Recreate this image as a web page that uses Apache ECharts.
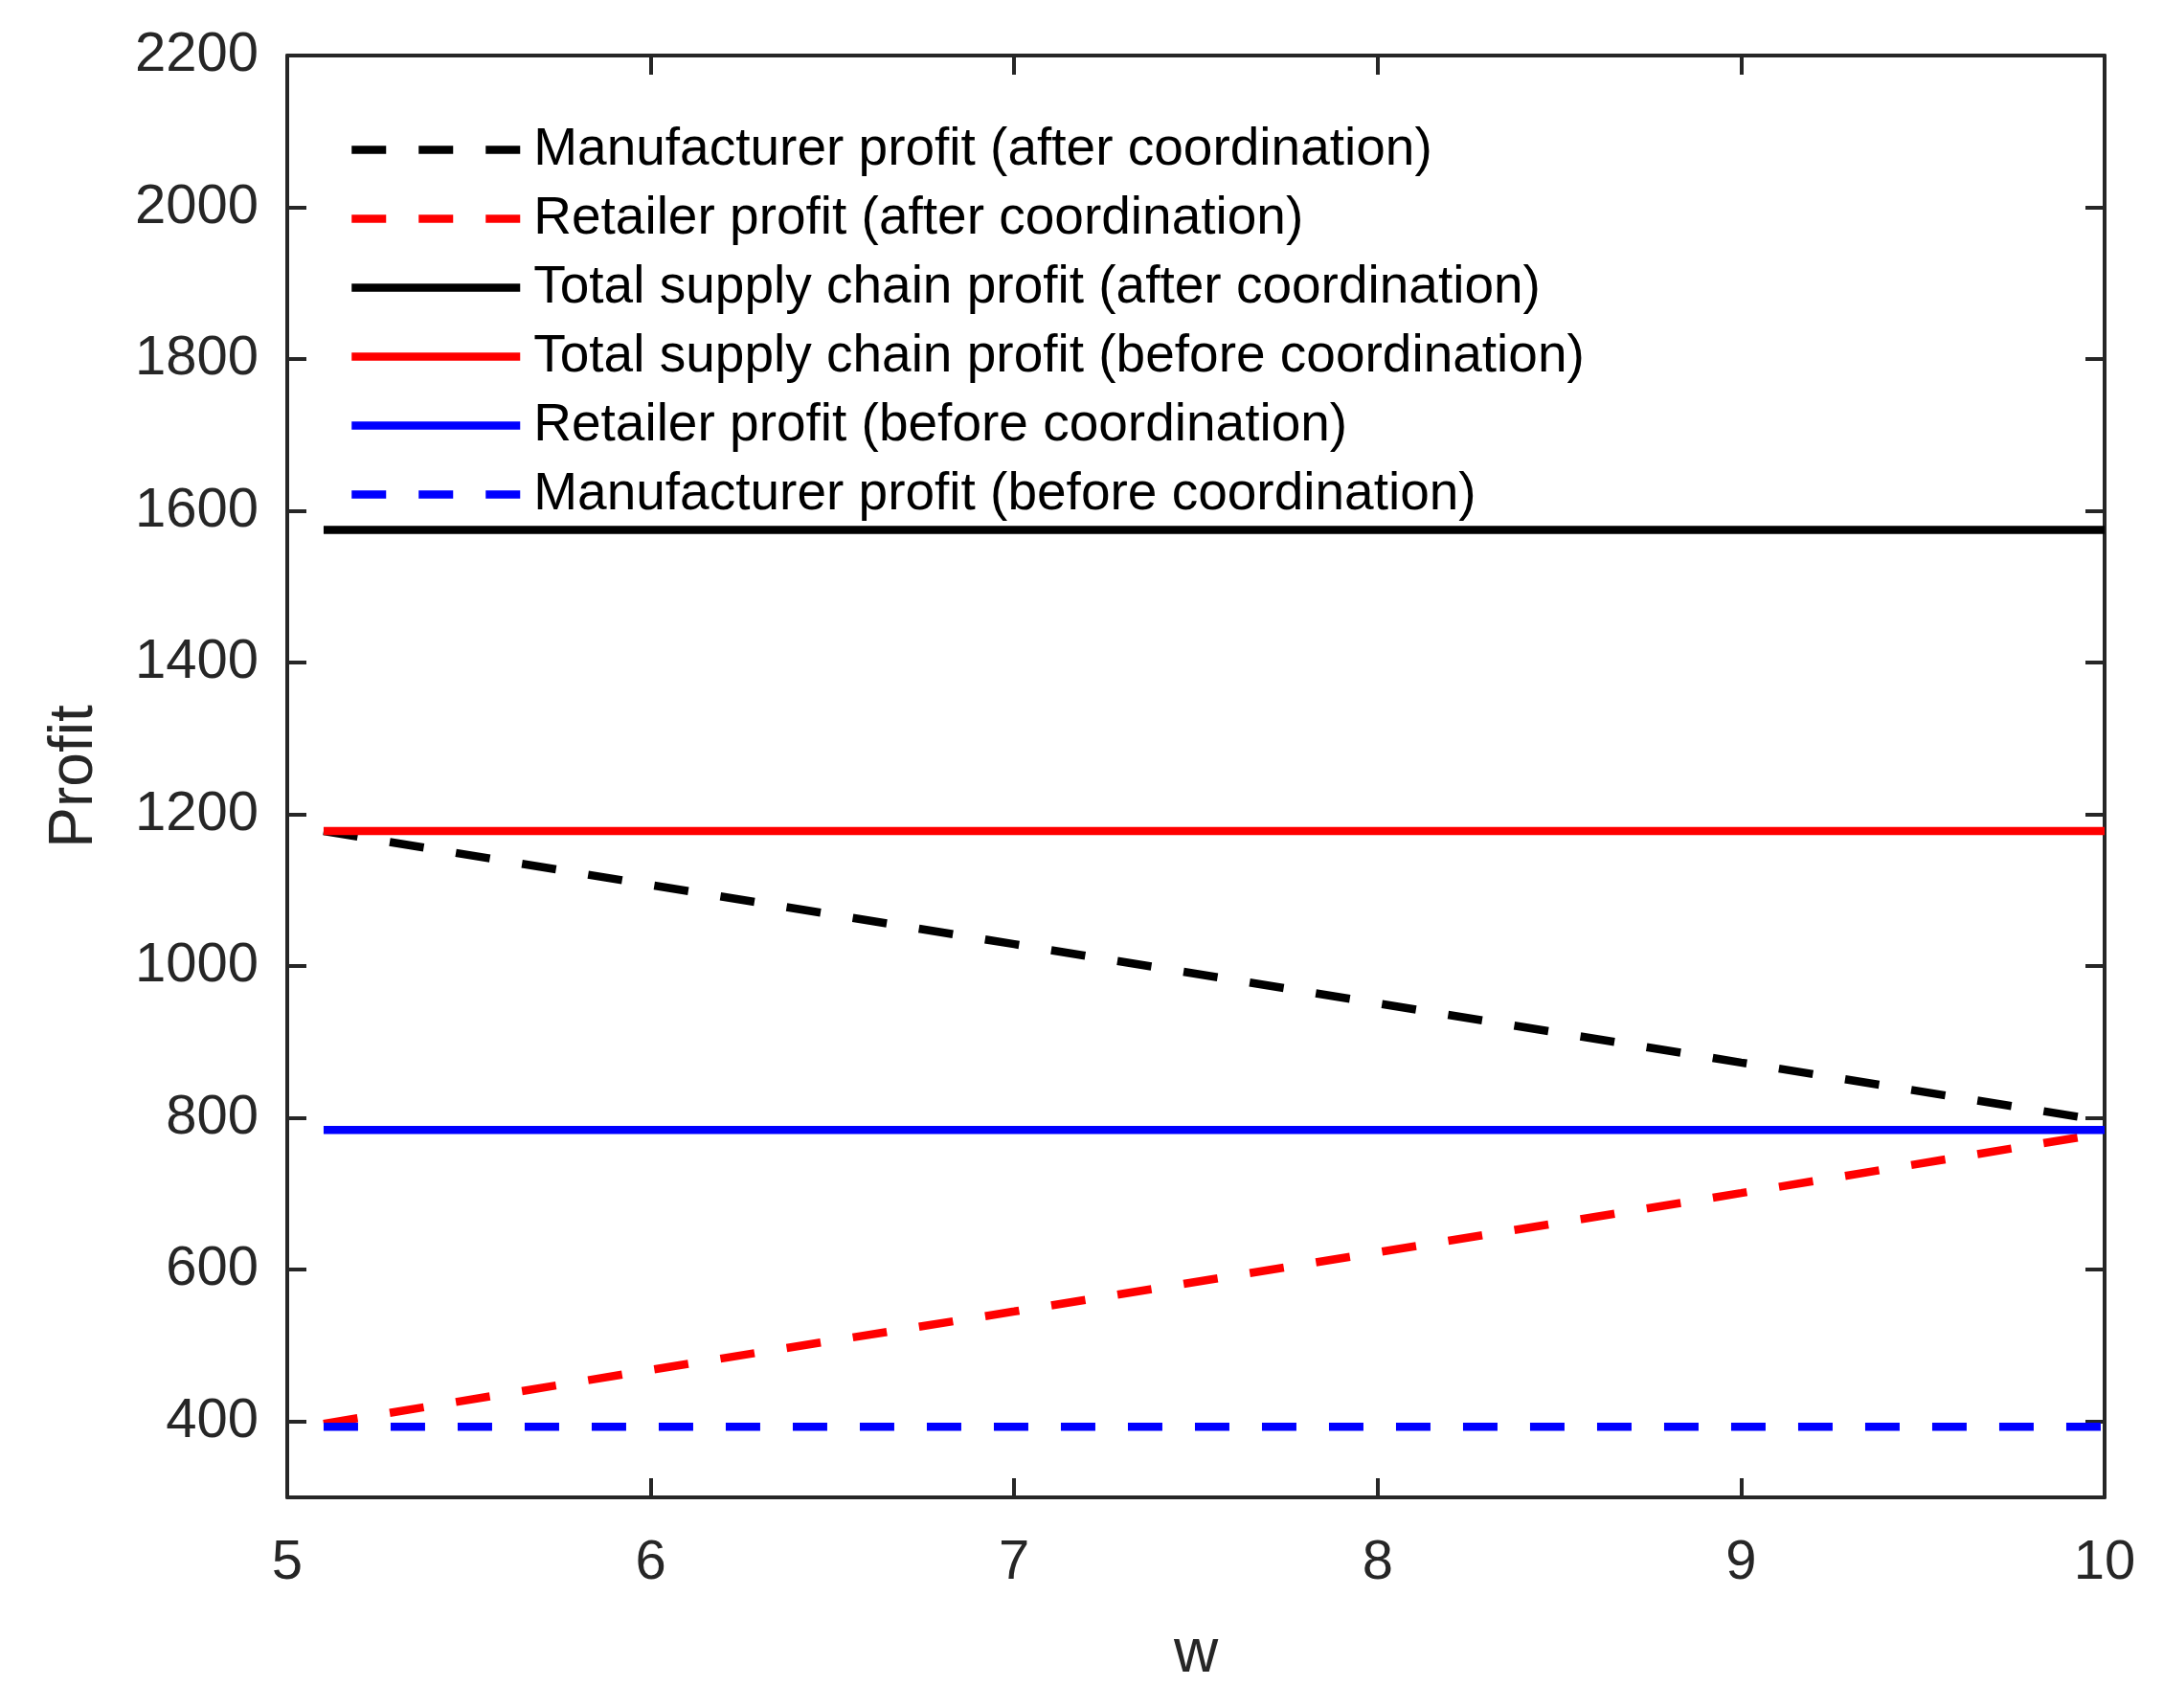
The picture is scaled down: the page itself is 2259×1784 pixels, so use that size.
<!DOCTYPE html>
<html>
<head>
<meta charset="utf-8">
<script src="https://cdn.jsdelivr.net/npm/echarts@6/dist/echarts.min.js"></script>
<style>
html,body{margin:0;padding:0;background:#fff;}
#chart{width:2259px;height:1784px;}
</style>
</head>
<body>
<div id="chart"></div>
<script>
// ---- data ----
const wValues = [5.1, 6, 7, 8, 9, 10];
const manufacturerAfter = [1178, 1107, 1029, 951, 873, 796];
const retailerAfter = [397, 468, 545, 623, 701, 780];
const totalAfter = [1575, 1575, 1575, 1575, 1575, 1575];
const totalBefore = [1178, 1178, 1178, 1178, 1178, 1178];
const retailerBefore = [784, 784, 784, 784, 784, 784];
const manufacturerBefore = [393, 393, 393, 393, 393, 393];
const seriesNames = [
  'Manufacturer profit (after coordination)',
  'Retailer profit (after coordination)',
  'Total supply chain profit (after coordination)',
  'Total supply chain profit (before coordination)',
  'Retailer profit (before coordination)',
  'Manufacturer profit (before coordination)'
];
const seriesColors = ['#000000', '#ff0000', '#000000', '#ff0000', '#0000ff', '#0000ff'];
const seriesDashed = [true, true, false, false, false, true];
const yTicks = [400, 600, 800, 1000, 1200, 1400, 1600, 1800, 2000, 2200];
const xTicks = [5, 6, 7, 8, 9, 10];

const FONT = '"Liberation Sans", Arial, Helvetica, sans-serif';
const AX = '#262626';
const LW = 8.5;
const DASH = [36, 34];

function pairs(ys) { return wValues.map((x, i) => [x, ys[i]]); }

function mkSeries(i, ys) {
  return {
    name: seriesNames[i],
    type: 'line',
    data: pairs(ys),
    symbol: 'none',
    showSymbol: false,
    silent: true,
    animation: false,
    lineStyle: { color: seriesColors[i], width: LW, type: seriesDashed[i] ? DASH : 'solid', cap: 'butt' },
    itemStyle: { color: seriesColors[i] }
  };
}

const chart = echarts.init(document.getElementById('chart'), null, { renderer: 'canvas' });

const baseX = {
  type: 'value', min: 5, max: 10, interval: 1,
  splitLine: { show: false },
  axisLine: { show: true, onZero: false, lineStyle: { color: AX, width: 4 } },
  axisTick: { show: true, inside: true, length: 20, lineStyle: { color: AX, width: 4 } }
};
const baseY = {
  type: 'value', min: 300, max: 2200,
  splitLine: { show: false },
  axisLine: { show: true, onZero: false, lineStyle: { color: AX, width: 4 } },
  axisTick: { show: true, inside: true, length: 20, customValues: yTicks, lineStyle: { color: AX, width: 4 } }
};

chart.setOption({
  backgroundColor: '#ffffff',
  animation: false,
  grid: { left: 300, right: 61, top: 58, bottom: 220, containLabel: false },
  xAxis: [
    Object.assign({}, baseX, {
      position: 'bottom',
      name: 'w', nameLocation: 'middle', nameGap: 132,
      nameTextStyle: { fontFamily: FONT, fontSize: 64, color: AX },
      axisLabel: { show: true, margin: 40, fontFamily: FONT, fontSize: 58, color: AX, customValues: xTicks,
        formatter: function (v) { return String(v); } }
    }),
    Object.assign({}, baseX, {
      position: 'top',
      axisLabel: { show: false }
    })
  ],
  yAxis: [
    Object.assign({}, baseY, {
      position: 'left',
      name: 'Profit', nameLocation: 'middle', nameGap: 190, nameRotate: 90,
      nameTextStyle: { fontFamily: FONT, fontSize: 64, color: AX },
      axisLabel: { show: true, margin: 30, fontFamily: FONT, fontSize: 58, color: AX, customValues: yTicks,
        formatter: function (v) { return String(v); } }
    }),
    Object.assign({}, baseY, {
      position: 'right',
      axisLabel: { show: false }
    })
  ],
  legend: {
    show: true,
    orient: 'vertical',
    left: 358,
    top: 124,
    itemWidth: 176,
    itemHeight: 20,
    itemGap: 17,
    selectedMode: false,
    itemStyle: { opacity: 0 },
    lineStyle: { width: LW, cap: 'butt' },
    textStyle: { fontFamily: FONT, fontSize: 55, color: '#000000', lineHeight: 55, padding: [0, 0, 0, 9] },
    data: seriesNames.map(function (n, i) {
      return {
        name: n,
        lineStyle: { color: seriesColors[i], width: LW, type: seriesDashed[i] ? DASH : 'solid', cap: 'butt' }
      };
    })
  },
  series: [
    mkSeries(0, manufacturerAfter),
    mkSeries(1, retailerAfter),
    mkSeries(2, totalAfter),
    mkSeries(3, totalBefore),
    mkSeries(4, retailerBefore),
    mkSeries(5, manufacturerBefore)
  ]
});
</script>
</body>
</html>
